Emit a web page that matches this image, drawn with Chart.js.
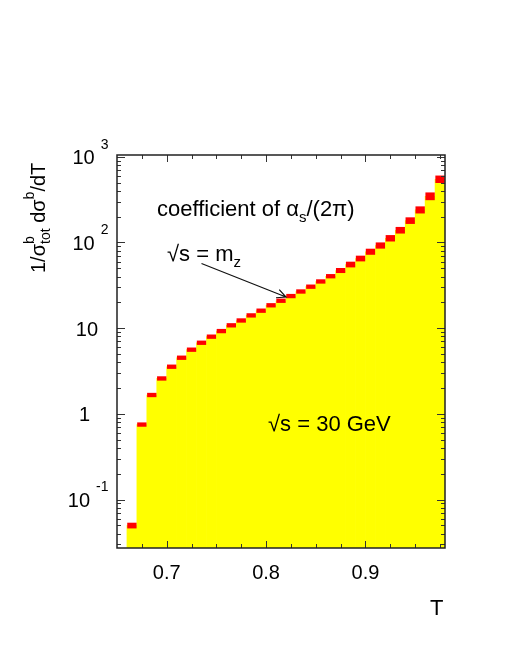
<!DOCTYPE html>
<html>
<head>
<meta charset="utf-8">
<script src="https://cdn.jsdelivr.net/npm/chart.js@4.4.1/dist/chart.umd.min.js"></script>
<style>
  html, body { margin: 0; padding: 0; background: #fff; }
  canvas { display: block; }
</style>
</head>
<body>
<canvas id="thrustChart" width="505" height="654"></canvas>
<script>
// thrust bins (width 0.01), centre of each bin
const binCentres = [0.665, 0.675, 0.685, 0.695, 0.705, 0.715, 0.725, 0.735, 0.745, 0.755,
                    0.765, 0.775, 0.785, 0.795, 0.805, 0.815, 0.825, 0.835, 0.845, 0.855,
                    0.865, 0.875, 0.885, 0.895, 0.905, 0.915, 0.925, 0.935, 0.945, 0.955,
                    0.965, 0.975];
// 1/sigma dsigma/dT, coefficient of alpha_s/(2pi)
const coeffValues = [0.0497, 0.75, 1.66, 2.59, 3.55, 4.52, 5.61, 6.76, 7.96, 9.25,
                     10.8, 12.3, 14.1, 16.0, 18.5, 20.9, 23.7, 26.8, 30.5, 35.1,
                     40.4, 47.1, 55.3, 65.0, 78.0, 92.2, 112, 139, 180, 240,
                     346, 547];
// relative half-size of the red error boxes
const relErrors = [0.08, 0.06, 0.06, 0.06, 0.06, 0.06, 0.06, 0.06, 0.06, 0.06,
                   0.06, 0.06, 0.06, 0.06, 0.06, 0.06, 0.06, 0.06, 0.06, 0.06,
                   0.06, 0.07, 0.08, 0.08, 0.085, 0.087, 0.09, 0.093, 0.093, 0.10,
                   0.11, 0.105];
const xTickLabels = [0.7, 0.8, 0.9];
const yTickValues = [0.1, 1, 10, 100, 1000];
const yTickBases = ['10', '1', '10', '10', '10'];
const yTickExps = ['-1', '', '', '2', '3'];

const FONT = '"Liberation Sans", Arial, Helvetica, sans-serif';
const ctx = document.getElementById('thrustChart').getContext('2d');

const fillData = binCentres.map((x, i) => ({ x: x, y: coeffValues[i] }));
const boxData = binCentres.map((x, i) => ({
    x: x,
    y: [coeffValues[i] / (1 + relErrors[i]), coeffValues[i] * (1 + relErrors[i])]
}));

// draw a run of text pieces [text, size, dy, noAdvance]
function drawParts(c, parts, x, y) {
    let cx = x;
    parts.forEach(p => {
        c.font = p[1] + 'px ' + FONT;
        c.fillText(p[0], cx, y + (p[2] || 0));
        if (!p[3]) cx += c.measureText(p[0]).width;
    });
    return cx;
}

const framePlugin = {
    id: 'frame',
    afterDraw(chart) {
        const c = chart.ctx;
        const a = chart.chartArea;
        const xs = chart.scales.x;
        const ys = chart.scales.y;
        c.save();

        // ticks pointing into the frame, on all four sides
        c.strokeStyle = '#333';
        c.lineWidth = 1;
        c.beginPath();
        for (let v = 0.675; v < 0.981; v += 0.025) {
            const px = Math.round(xs.getPixelForValue(v)) + 0.5;
            const major = xTickLabels.some(t => Math.abs(t - v) < 1e-6);
            const len = major ? 7 : 4;
            c.moveTo(px, a.bottom); c.lineTo(px, a.bottom - len);
            c.moveTo(px, a.top); c.lineTo(px, a.top + len);
        }
        for (let d = 0.01; d < 2000; d *= 10) {
            for (let k = 1; k < 10; k++) {
                const v = k * d;
                if (v < ys.min || v > ys.max) continue;
                const py = Math.round(ys.getPixelForValue(v)) + 0.5;
                const len = k === 1 ? 8 : 4;
                c.moveTo(a.left, py); c.lineTo(a.left + len, py);
                c.moveTo(a.right, py); c.lineTo(a.right - len, py);
            }
        }
        c.stroke();

        // frame
        c.strokeStyle = '#222';
        c.lineWidth = 1.5;
        c.strokeRect(a.left, a.top, a.right - a.left, a.bottom - a.top);

        // y tick labels with exponents
        c.fillStyle = '#000';
        c.textBaseline = 'middle';
        yTickValues.forEach((v, i) => {
            const py = ys.getPixelForValue(v);
            const base = yTickBases[i];
            const exp = yTickExps[i];
            c.font = '20px ' + FONT;
            const bw = c.measureText(base).width;
            if (exp) {
                c.font = '14px ' + FONT;
                const ew = c.measureText(exp).width;
                c.fillText(exp, 108.5 - ew, py - 12);
                c.font = '20px ' + FONT;
                c.fillText(base, 108.5 - ew - 6 - bw, py + 2);
            } else {
                c.fillText(base, (base === '1' ? 90 : 98) - bw, py + 2);
            }
        });

        // y axis title, rotated
        c.textBaseline = 'alphabetic';
        c.save();
        c.translate(45, 273);
        c.rotate(-Math.PI / 2);
        drawParts(c, [
            ['1/\u03c3', 20], ['b', 14, -11, true], ['tot', 14, 5],
            [' d\u03c3', 20], ['b', 14, -11], ['/dT', 20]
        ], 0, 0);
        c.restore();

        // x axis title
        c.font = '22px ' + FONT;
        c.textAlign = 'right';
        c.fillText('T', 443.5, 615);
        c.textAlign = 'left';

        // annotations
        drawParts(c, [['coefficient of \u03b1', 22], ['s', 15, 6], ['/(2\u03c0)', 22]], 157, 216);
        drawParts(c, [['\u221as = m', 22], ['z', 15, 6]], 167, 261);
        drawParts(c, [['\u221as = 30 GeV', 22]], 268, 431);

        // arrow
        const x0 = 201.5, y0 = 263.5, x1 = 286, y1 = 297;
        const ang = Math.atan2(y1 - y0, x1 - x0);
        c.strokeStyle = '#111';
        c.lineWidth = 1.2;
        c.beginPath();
        c.moveTo(x0, y0); c.lineTo(x1, y1);
        c.moveTo(x1 - 10 * Math.cos(ang - 0.45), y1 - 10 * Math.sin(ang - 0.45));
        c.lineTo(x1, y1);
        c.lineTo(x1 - 10 * Math.cos(ang + 0.45), y1 - 10 * Math.sin(ang + 0.45));
        c.stroke();

        c.restore();
    }
};

const thrustChart = new Chart(ctx, {
    type: 'bar',
    data: {
        datasets: [{
            label: 'errors',
            data: boxData,
            backgroundColor: '#ff0000',
            borderWidth: 0,
            grouped: false,
            barPercentage: 0.94,
            categoryPercentage: 1,
            order: 1
        }, {
            label: 'coefficient',
            data: fillData,
            backgroundColor: '#ffff00',
            borderWidth: 0,
            grouped: false,
            barPercentage: 1,
            categoryPercentage: 1,
            order: 2
        }]
    },
    options: {
        responsive: false,
        animation: false,
        events: [],
        layout: { padding: { left: 0, right: 60, top: 155, bottom: 0 } },
        plugins: {
            legend: { display: false },
            tooltip: { enabled: false }
        },
        scales: {
            x: {
                type: 'linear',
                min: 0.65,
                max: 0.98,
                offset: false,
                grid: { display: false, drawTicks: false },
                border: { display: false },
                afterBuildTicks: axis => { axis.ticks = xTickLabels.map(v => ({ value: v })); },
                afterFit: axis => { axis.height = 106; },
                ticks: {
                    color: '#000',
                    padding: 13,
                    maxRotation: 0,
                    font: { family: FONT, size: 20 },
                    callback: v => v.toFixed(1)
                }
            },
            y: {
                type: 'logarithmic',
                min: 0.0272,
                max: 1050,
                grid: { display: false, drawTicks: false },
                border: { display: false },
                ticks: { display: false },
                afterFit: axis => { axis.width = 117; }
            }
        }
    },
    plugins: [framePlugin]
});
</script>
</body>
</html>
